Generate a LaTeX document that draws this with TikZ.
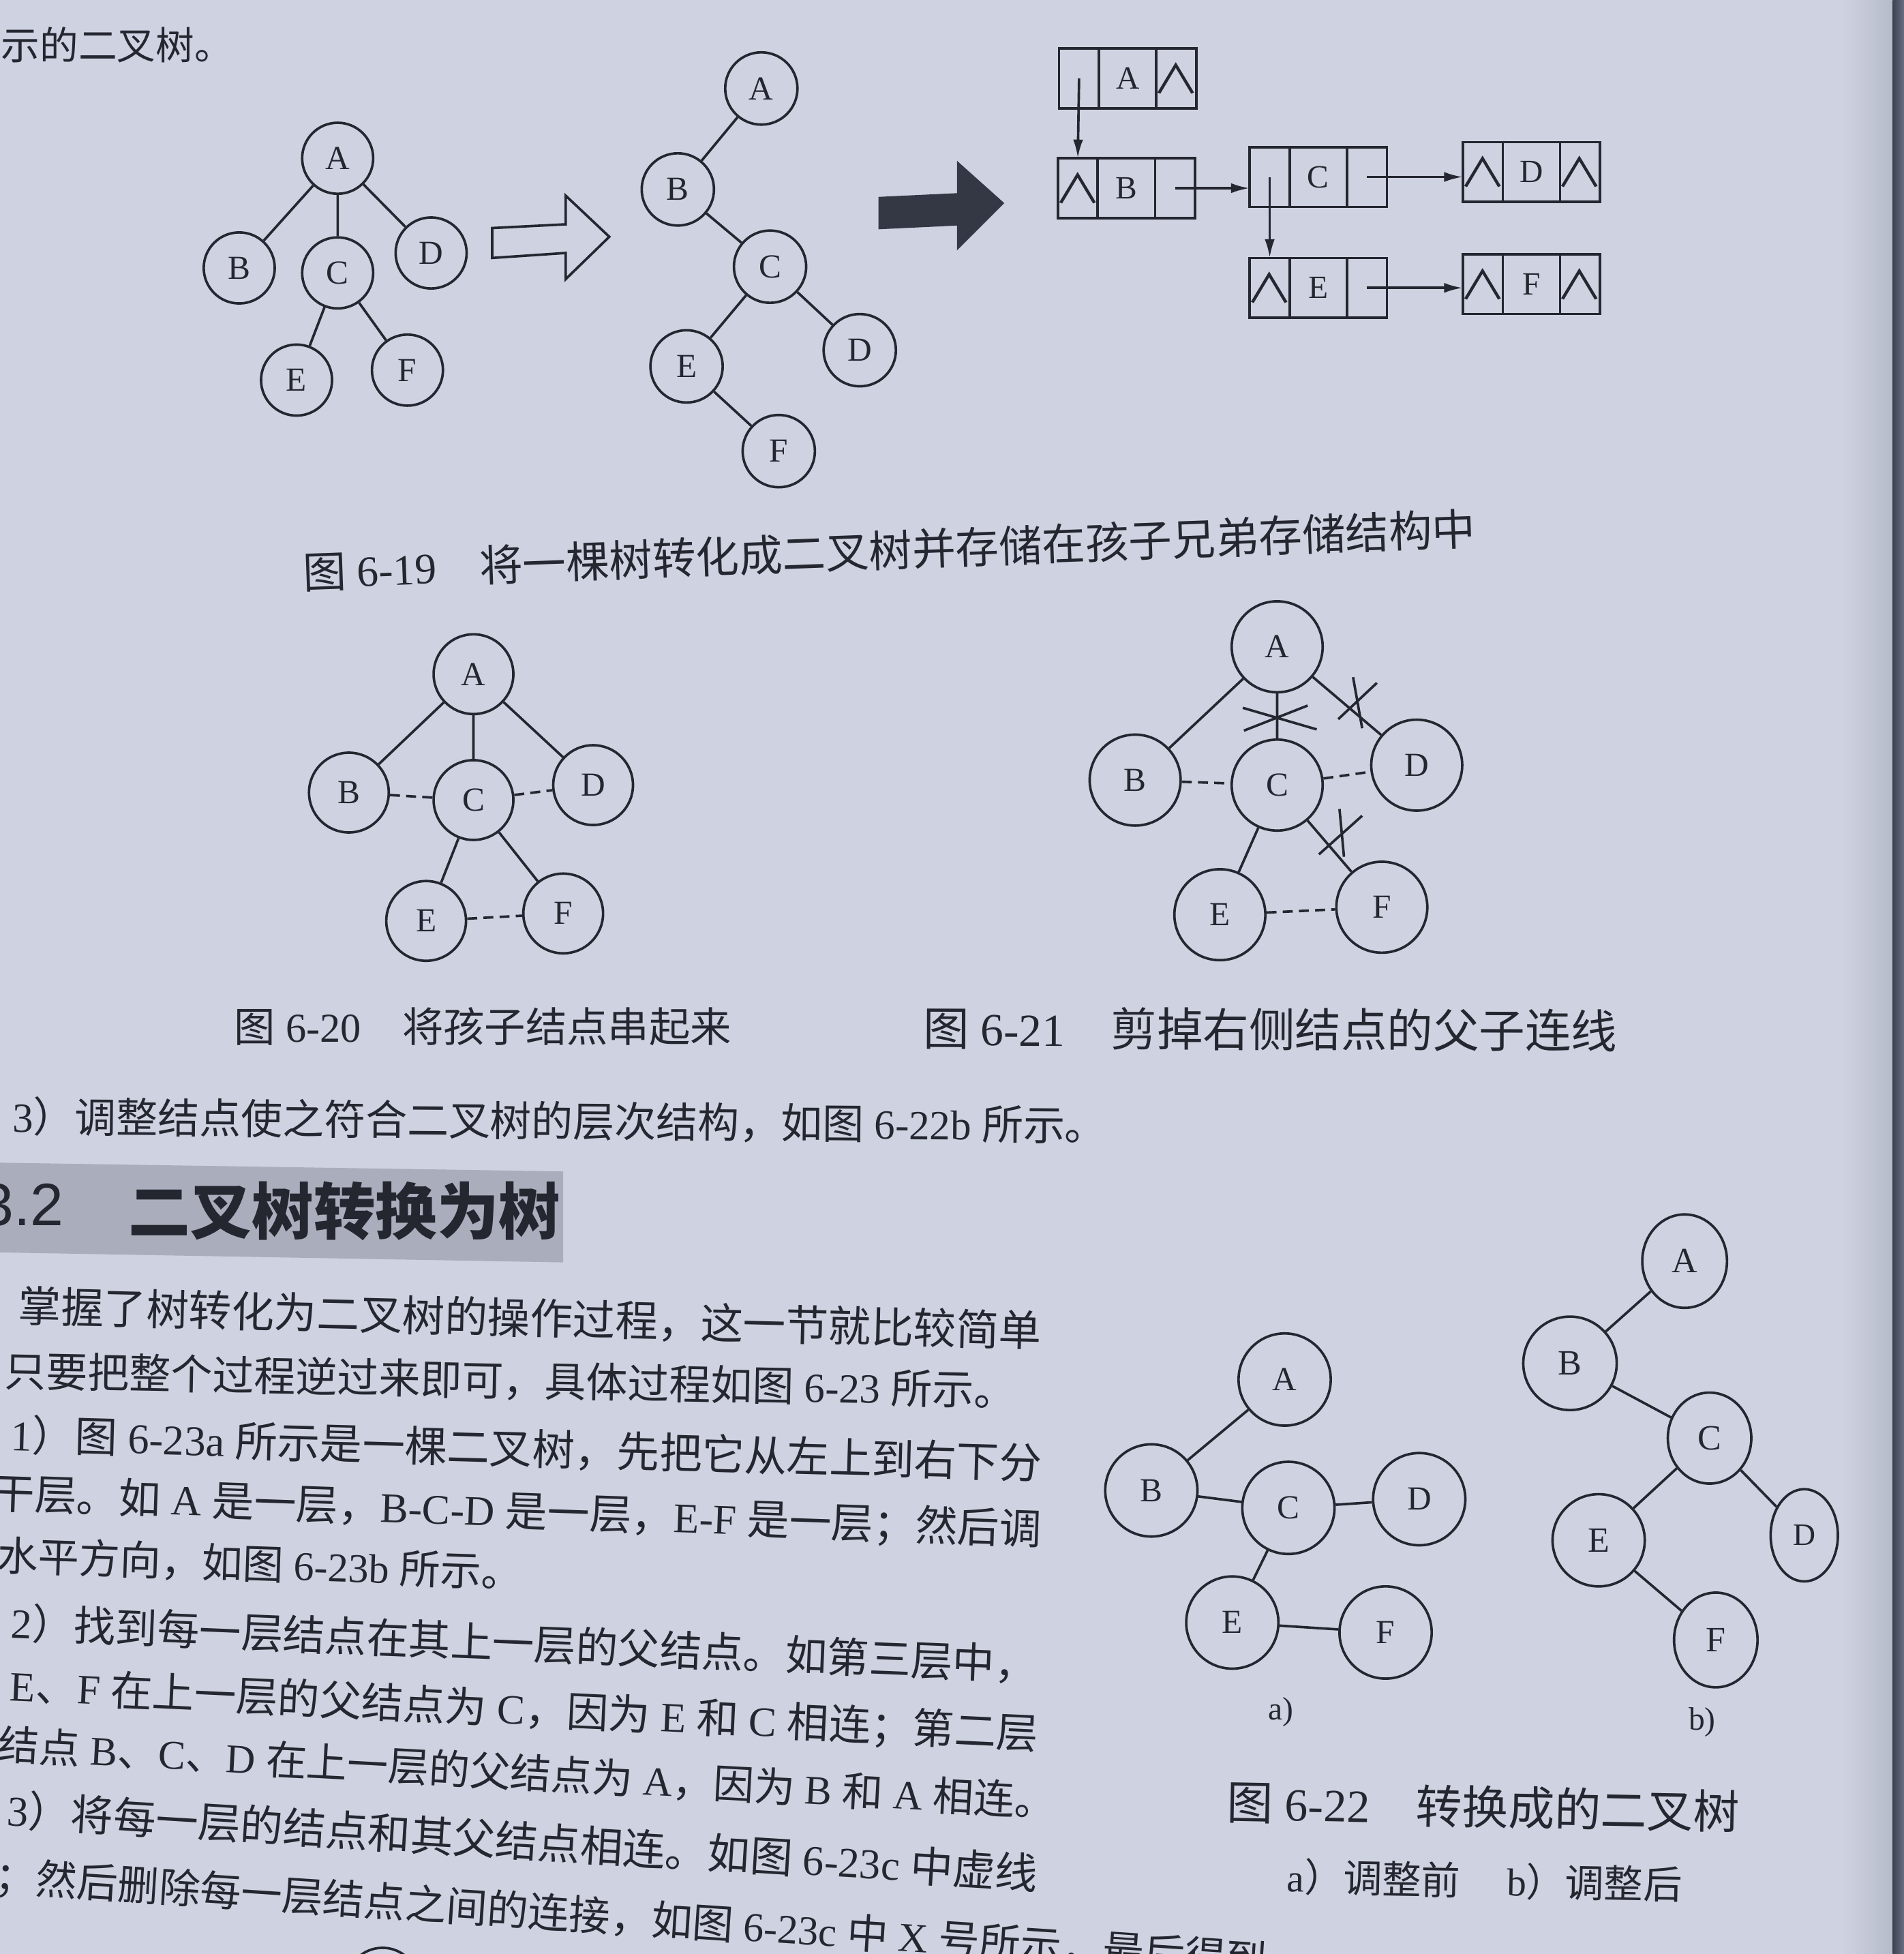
\documentclass[tikz,border=0pt]{standalone}
\usepackage{fontspec}
\usepackage{graphicx}
\setmainfont{Liberation Serif}
\newfontfamily\cjk{Noto Sans CJK SC}
\newfontfamily\sansf{Liberation Sans}
\usetikzlibrary{arrows.meta,shapes.geometric,calc}
% automatic switch between Latin and CJK fonts
\XeTeXinterchartokenstate=1
\newXeTeXintercharclass\CJKcls
\newcount\cjkc
\cjkc="3000 \loop\XeTeXcharclass\cjkc=\CJKcls\ifnum\cjkc<"303F\advance\cjkc by 1\repeat
\cjkc="4E00 \loop\XeTeXcharclass\cjkc=\CJKcls\ifnum\cjkc<"9FFF\advance\cjkc by 1\repeat
\cjkc="FF00 \loop\XeTeXcharclass\cjkc=\CJKcls\ifnum\cjkc<"FFEF\advance\cjkc by 1\repeat
\XeTeXinterchartoks 0 \CJKcls = {\cjk}
\XeTeXinterchartoks 4095 \CJKcls = {\cjk}
\XeTeXinterchartoks \CJKcls 0 = {\rmfamily}
\XeTeXinterchartoks \CJKcls 4095 = {\rmfamily}
\definecolor{bgc}{RGB}{207,211,225}
\definecolor{bgdark}{RGB}{182,187,202}
\definecolor{edgea}{RGB}{62,66,82}
\definecolor{edgeb}{RGB}{105,110,128}
\definecolor{inkc}{RGB}{36,38,48}
\definecolor{boxc}{RGB}{170,174,188}
\definecolor{arrc}{RGB}{52,56,68}
\newcommand\txtline[6]{%
  \pgfmathsetmacro\tlang{atan2((#3)-(#5),(#4)-(#2))}%
  \pgfmathsetmacro\tllen{veclen((#4)-(#2),(#5)-(#3))}%
  \node[txt, anchor=west, rotate=\tlang] (#1) at (#2,#3) {\resizebox{\tllen pt}{!}{#6}};%
}
\newcommand\txtlineW[6]{%
  \node[txt, anchor=west, rotate=#4, font=\fontsize{#5}{#5}\selectfont] (#1) at (#2,#3) {#6};%
}
\newcommand\nullp{\makebox[20pt]{\resizebox{38pt}{25pt}{\cjk ∧}}}
\newcommand\llbox[6]{%
  \node[cell, minimum width=32pt, anchor=north west] (#1l) at (#2,#3) {#4};%
  \node[cell, minimum width=46pt, anchor=west] (#1m) at (#1l.east) {#5};%
  \node[cell, minimum width=32pt, anchor=west] (#1r) at (#1m.east) {#6};%
}
\begin{document}
\begin{tikzpicture}[x=1pt,y=-1pt,
  lnk/.style={draw=inkc, line width=2pt},
  dlnk/.style={lnk, dash pattern=on 8pt off 5pt},
  vtx/.style={circle, draw=inkc, line width=2pt, inner sep=0pt, minimum size=#1, text=inkc, font=\fontsize{27}{27}\selectfont},
  vtx/.default=58pt,
  evtx/.style 2 args={ellipse, draw=inkc, line width=2pt, inner sep=0pt, minimum width=#1, minimum height=#2, text=inkc, font=\fontsize{28.5}{28.5}\selectfont},
  cell/.style={draw=inkc, line width=2pt, inner sep=0pt, outer sep=0pt, minimum height=48pt, text=inkc, font=\fontsize{26}{26}\selectfont},
  ptr/.style={-{Latex[length=15pt,width=8pt]}},
  txt/.style={inner sep=0pt, outer sep=0pt, text=inkc, font=\fontsize{30}{36}\selectfont},
  lab/.style={inner sep=0pt, text=inkc, font=\fontsize{26}{26}\selectfont},
]
\useasboundingbox (0,0) rectangle (1528,1568);
\clip (0,0) rectangle (1528,1568);
\fill[bgc] (0,0) rectangle (1528,1568);
\shade[left color=bgc, right color=bgdark] (1478,0) rectangle (1519,1568);
\shade[left color=edgea, right color=edgeb] (1519,0) rectangle (1528,1568);

% ---------- top text
\txtline{t0}{1}{36}{187}{36}{示的二叉树。}

% ---------- Fig 6-19: tree
\node[vtx=57pt] (a1) at (271,127) {A};
\node[vtx=57pt] (b1) at (192,215) {B};
\node[vtx=57pt] (c1) at (271,219) {C};
\node[vtx=57pt] (d1) at (346,203) {D};
\node[vtx=57pt] (e1) at (238,305) {E};
\node[vtx=57pt] (f1) at (327,297) {F};
\draw[lnk] (a1)--(b1) (a1)--(c1) (a1)--(d1) (c1)--(e1) (c1)--(f1);

% hollow arrow
\draw[lnk, line join=miter] (395,183) -- (454,180) -- (454,157) -- (489,190) -- (454,224) -- (454,203) -- (395,207) -- cycle;

% binary tree
\node[vtx=58pt] (a2) at (611,71) {A};
\node[vtx=58pt] (b2) at (544,152) {B};
\node[vtx=58pt] (c2) at (618,214) {C};
\node[vtx=58pt] (d2) at (690,281) {D};
\node[vtx=58pt] (e2) at (551,294) {E};
\node[vtx=58pt] (f2) at (625,362) {F};
\draw[lnk] (a2)--(b2) (b2)--(c2) (c2)--(e2) (c2)--(d2) (e2)--(f2);

% black arrow
\fill[arrc] (705,158) -- (768,155) -- (768,129) -- (806,163) -- (768,201) -- (768,181) -- (705,184) -- cycle;

% child-sibling storage
\llbox{LA}{850}{39}{}{A}{\nullp}
\llbox{LB}{849}{127}{\nullp}{B}{}
\llbox{LC}{1003}{118}{}{C}{}
\llbox{LD}{1174}{114}{\nullp}{D}{\nullp}
\llbox{LE}{1003}{207}{\nullp}{E}{}
\llbox{LF}{1174}{204}{\nullp}{F}{\nullp}
\draw[lnk, ptr] (LAl.center) -- (LBl.north);
\draw[lnk, ptr] (LBr.center) -- (LBr.center -| LCl.west);
\draw[lnk, ptr] (LCr.center) -- (LCr.center -| LDl.west);
\draw[lnk, ptr] (LCl.center) -- (LEl.north);
\draw[lnk, ptr] (LEr.center) -- (LEr.center -| LFl.west);

\txtline{t1}{243}{459}{1184}{424}{图 6-19\hspace{1em}将一棵树转化成二叉树并存储在孩子兄弟存储结构中}

% ---------- Fig 6-20
\node[vtx=64pt] (a3) at (380,541) {A};
\node[vtx=64pt] (b3) at (280,636) {B};
\node[vtx=64pt] (c3) at (380,642) {C};
\node[vtx=64pt] (d3) at (476,630) {D};
\node[vtx=64pt] (e3) at (342,739) {E};
\node[vtx=64pt] (f3) at (452,733) {F};
\draw[lnk] (a3)--(b3) (a3)--(c3) (a3)--(d3) (c3)--(e3) (c3)--(f3);
\draw[dlnk] (b3)--(c3) (c3)--(d3) (e3)--(f3);
\txtline{t2}{188}{824}{587}{824}{图 6-20\hspace{1em}将孩子结点串起来}

% ---------- Fig 6-21
\begin{scope}[every node/.append style={font=\fontsize{29}{29}\selectfont}]
\node[vtx=73pt] (a4) at (1025,519) {A};
\node[vtx=73pt] (b4) at (911,626) {B};
\node[vtx=73pt] (c4) at (1025,630) {C};
\node[vtx=73pt] (d4) at (1137,614) {D};
\node[vtx=73pt] (e4) at (979,734) {E};
\node[vtx=73pt] (f4) at (1109,728) {F};
\end{scope}
\draw[lnk] (a4)--(b4) (a4)--(c4) (a4)--(d4) (c4)--(e4) (c4)--(f4);
\draw[dlnk] (b4)--(c4) (c4)--(d4) (e4)--(f4);
\coordinate (x1) at (1025,576.5);
\coordinate (x2) at (1089.5,564);
\coordinate (x3) at (1076.5,668);
\draw[lnk] (x1) +(-27.6,-8.5) -- +(31.7,8.8)  (x1) +(-26.7,9.8) -- +(24.4,-10.3);
\draw[lnk] (x2) +(-3.6,-20.6) -- +(3.7,20.4)  (x2) +(-15.5,13.1) -- +(15.5,-16);
\draw[lnk] (x3) +(-1.5,-18.8) -- +(2.1,19.5)  (x3) +(-18,17.6) -- +(16.7,-13.4);
\txtline{t3}{741}{825}{1298}{827}{图 6-21\hspace{1em}剪掉右侧结点的父子连线}

% ---------- text block
\txtline{t4}{10}{896}{888}{903}{3）调整结点使之符合二叉树的层次结构，如图 6-22b 所示。}
\fill[boxc] (0,933) -- (452,940) -- (452,1013) -- (0,1005) -- cycle;
\node[txt, anchor=east, font=\fontsize{48}{48}\selectfont\sansf] (t5a) at (51,967) {3.2};
\txtline{t5}{103}{972}{450}{972}{\bfseries 二叉树转换为树}
\txtline{t6}{15}{1048}{836}{1068}{掌握了树转化为二叉树的操作过程，这一节就比较简单}
\txtline{t7}{4}{1100}{815}{1116}{只要把整个过程逆过来即可，具体过程如图 6-23 所示。}
\txtline{t8}{9}{1151}{836}{1174}{1）图 6-23a 所示是一棵二叉树，先把它从左上到右下分}
\txtline{t9}{-6}{1199}{836}{1228}{干层。如 A 是一层，B-C-D 是一层，E-F 是一层；然后调}
\txtline{t10}{-2}{1248}{419}{1262}{水平方向，如图 6-23b 所示。}
\txtline{t11}{9}{1302}{832}{1336}{2）找到每一层结点在其上一层的父结点。如第三层中，}
\txtline{t12}{8}{1353}{833}{1392}{E、F 在上一层的父结点为 C，因为 E 和 C 相连；第二层}
\txtline{t13}{-1}{1400}{847}{1446}{结点 B、C、D 在上一层的父结点为 A，因为 B 和 A 相连。}
\txtline{t14}{6}{1452}{833}{1503}{3）将每一层的结点和其父结点相连。如图 6-23c 中虚线}
\txtlineW{t15}{-4}{1506}{-3.8}{33}{；然后删除每一层结点之间的连接，如图 6-23c 中 X 号所示，最后得到}
\node[vtx=58pt] (g1) at (307,1592) {};

% ---------- Fig 6-22 a
\begin{scope}[every node/.append style={font=\fontsize{28.5}{28.5}\selectfont}]
\node[vtx=74pt] (a5) at (1031,1107) {A};
\node[vtx=74pt] (b5) at (924,1196) {B};
\node[vtx=74pt] (c5) at (1034,1210) {C};
\node[vtx=74pt] (d5) at (1139,1203) {D};
\node[vtx=74pt] (e5) at (989,1302) {E};
\node[vtx=74pt] (f5) at (1112,1310) {F};
\end{scope}
\draw[lnk] (a5)--(b5) (b5)--(c5) (c5)--(d5) (c5)--(e5) (e5)--(f5);
\node[lab] (la) at (1028,1374) {a)};

% ---------- Fig 6-22 b
\node[evtx={68pt}{75pt}] (a6) at (1352,1012) {A};
\node[vtx=75pt, font=\fontsize{28.5}{28.5}\selectfont] (b6) at (1260,1094) {B};
\node[evtx={67pt}{73pt}] (c6) at (1372,1154) {C};
\node[vtx=74pt, font=\fontsize{28.5}{28.5}\selectfont] (e6) at (1283,1236) {E};
\node[evtx={54pt}{74pt}, font=\fontsize{25}{25}\selectfont] (d6) at (1448,1232) {D};
\node[evtx={67pt}{76pt}] (f6) at (1377,1316) {F};
\draw[lnk] (a6)--(b6) (b6)--(c6) (c6)--(e6) (c6)--(d6) (e6)--(f6);
\node[lab] (lb) at (1366,1382) {b)};

\txtline{t16}{985}{1446}{1396}{1454}{图 6-22\hspace{1em}转换成的二叉树}
\txtline{t17}{1033}{1506}{1350}{1512}{a）调整前\hspace{1.2em}b）调整后}
\end{tikzpicture}
\end{document}
